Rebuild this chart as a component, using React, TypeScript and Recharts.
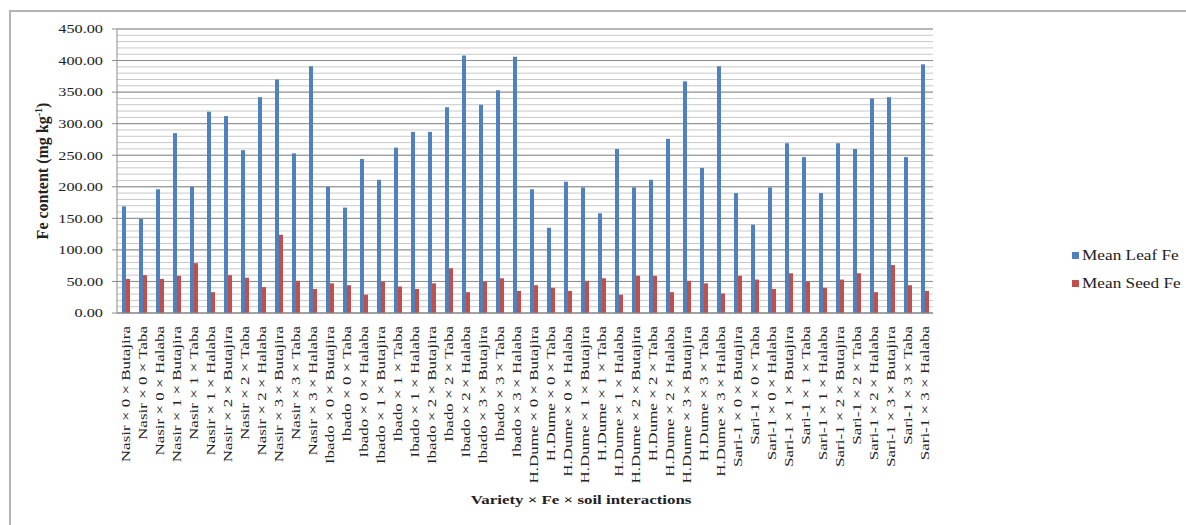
import { BarChart, Bar, XAxis, YAxis, CartesianGrid, Legend } from 'recharts';

const categories = [
  'Nasir × 0 × Butajira', 'Nasir × 0 × Taba', 'Nasir × 0 × Halaba',
  'Nasir × 1 × Butajira', 'Nasir × 1 × Taba', 'Nasir × 1 × Halaba',
  'Nasir × 2 × Butajira', 'Nasir × 2 × Taba', 'Nasir × 2 × Halaba',
  'Nasir × 3 × Butajira', 'Nasir × 3 × Taba', 'Nasir × 3 × Halaba',
  'Ibado × 0 × Butajira', 'Ibado × 0 × Taba', 'Ibado × 0 × Halaba',
  'Ibado × 1 × Butajira', 'Ibado × 1 × Taba', 'Ibado × 1 × Halaba',
  'Ibado × 2 × Butajira', 'Ibado × 2 × Taba', 'Ibado × 2 × Halaba',
  'Ibado × 3 × Butajira', 'Ibado × 3 × Taba', 'Ibado × 3 × Halaba',
  'H.Dume × 0 × Butajira', 'H.Dume × 0 × Taba', 'H.Dume × 0 × Halaba',
  'H.Dume × 1 × Butajira', 'H.Dume × 1 × Taba', 'H.Dume × 1 × Halaba',
  'H.Dume × 2 × Butajira', 'H.Dume × 2 × Taba', 'H.Dume × 2 × Halaba',
  'H.Dume × 3 × Butajira', 'H.Dume × 3 × Taba', 'H.Dume × 3 × Halaba',
  'Sari-1 × 0 × Butajira', 'Sari-1 × 0 × Taba', 'Sari-1 × 0 × Halaba',
  'Sari-1 × 1 × Butajira', 'Sari-1 × 1 × Taba', 'Sari-1 × 1 × Halaba',
  'Sari-1 × 2 × Butajira', 'Sari-1 × 2 × Taba', 'Sari-1 × 2 × Halaba',
  'Sari-1 × 3 × Butajira', 'Sari-1 × 3 × Taba', 'Sari-1 × 3 × Halaba',
];

const leafFe = [
  169, 149, 196, 285, 200, 319, 312, 258, 342, 370, 253, 391,
  200, 167, 244, 211, 262, 287, 287, 326, 408, 330, 353, 406,
  196, 135, 208, 199, 158, 260, 199, 211, 276, 367, 230, 391,
  190, 140, 199, 269, 247, 190, 269, 260, 340, 342, 247, 394,
];

const seedFe = [
  54, 60, 54, 59, 79, 33, 60, 56, 41, 124, 51, 38,
  47, 44, 29, 50, 42, 38, 47, 71, 33, 50, 55, 35,
  44, 40, 35, 51, 55, 29, 59, 59, 33, 51, 47, 31,
  59, 53, 38, 63, 50, 40, 53, 63, 33, 76, 44, 35,
];

const yTicks = [0, 50, 100, 150, 200, 250, 300, 350, 400, 450];
const minorStep = 10;

const seriesNames = ['Mean Leaf Fe', 'Mean Seed Fe'];
const BLUE = '#4F81BD';
const RED = '#C0504D';
const FONT = '"Liberation Serif", "Times New Roman", serif';
const STRETCH = 1.3; // the reference text looks wider than it is tall

const W = 1186;
const H = 525;
const PLOT_LEFT = 117;
const RIGHT_GAP = 141;

const data = categories.map((name, i) => ({
  name,
  leaf: leafFe[i],
  seed: seedFe[i],
}));

const minorLines: number[] = [];
for (let v = 0; v <= 450; v += minorStep) minorLines.push(v);

function stretchAt(x: number, y: number, k = STRETCH) {
  return `translate(${x},${y}) scale(${k},1) translate(${-x},${-y})`;
}

function YTick({ x, y, payload }: { x?: number; y?: number; payload?: { value: number } }) {
  if (x == null || y == null || !payload) return null;
  return (
    <text
      x={x}
      y={y}
      dy="0.35em"
      textAnchor="end"
      fontFamily={FONT}
      fontSize={12.5}
      fill="#222"
      transform={stretchAt(x, y)}
    >
      {payload.value.toFixed(2)}
    </text>
  );
}

function XTick({ x, y, payload }: { x?: number; y?: number; payload?: { value: string } }) {
  if (x == null || y == null || !payload) return null;
  return (
    <text
      x={x}
      y={y}
      dy="0.35em"
      textAnchor="end"
      fontFamily={FONT}
      fontSize={17}
      fill="#222"
      transform={`translate(${x},${y}) rotate(-90) scale(1,0.78) translate(${-x},${-y})`}
    >
      {payload.value}
    </text>
  );
}

function XTitle() {
  const cx = PLOT_LEFT + (W - PLOT_LEFT - RIGHT_GAP) / 2;
  const cy = 504;
  return (
    <text
      x={cx}
      y={cy}
      textAnchor="middle"
      fontFamily={FONT}
      fontWeight="bold"
      fontSize={13}
      fill="#222"
      transform={stretchAt(cx, cy)}
    >
      Variety × Fe × soil interactions
    </text>
  );
}

function YTitle({ viewBox }: { viewBox?: { x: number; y: number; width: number; height: number } }) {
  if (!viewBox) return null;
  const cx = 42;
  const cy = viewBox.y + viewBox.height / 2;
  return (
    <text
      x={cx}
      y={cy}
      dy="0.35em"
      textAnchor="middle"
      fontFamily={FONT}
      fontWeight="bold"
      fontSize={16}
      fill="#222"
      transform={`rotate(-90, ${cx}, ${cy})`}
    >
      Fe content (mg kg
      <tspan dy={-6} fontSize={10}>-1</tspan>
      <tspan dy={6}>)</tspan>
    </text>
  );
}

function LegendBox() {
  const colors = [BLUE, RED];
  return (
    <div style={{ fontFamily: FONT, fontSize: 15, color: '#222', whiteSpace: 'nowrap' }}>
      {seriesNames.map((n, i) => (
        <div key={n} style={{ display: 'flex', alignItems: 'center', height: 28 }}>
          <span style={{ display: 'inline-block', width: 7, height: 7, background: colors[i], marginRight: 3 }} />
          <span style={{ display: 'inline-block', transform: 'scaleX(1.15)', transformOrigin: 'left center' }}>{n}</span>
        </div>
      ))}
    </div>
  );
}

export default function App() {
  return (
    <div
      style={{
        position: 'fixed',
        left: 0,
        top: 0,
        width: W,
        height: H,
        overflow: 'hidden',
        background: '#fff',
      }}
    >
      <div
        style={{
          position: 'absolute',
          left: 9,
          top: 10,
          width: 1200,
          height: 540,
          border: '2px solid #b4b4b4',
        }}
      />
      <BarChart
        width={W}
        height={H}
        data={data}
        margin={{ top: 29, right: RIGHT_GAP, left: 0, bottom: 0 }}
        barGap={0}
        barCategoryGap="30%"
        style={{ position: 'absolute', left: 0, top: 0 }}
      >
        <CartesianGrid
          horizontal
          vertical={false}
          horizontalValues={minorLines}
          stroke="#c8c8c8"
          strokeWidth={1}
        />
        <CartesianGrid horizontal vertical={false} stroke="#8c8c8c" strokeWidth={1} />
        <XAxis
          dataKey="name"
          interval={0}
          height={212}
          tickLine={false}
          tickSize={0}
          tickMargin={13}
          axisLine={{ stroke: '#8c8c8c' }}
          tick={<XTick />}
          label={<XTitle />}
        />
        <YAxis
          width={PLOT_LEFT}
          domain={[0, 450]}
          ticks={yTicks}
          interval={0}
          tickSize={5}
          tickMargin={9}
          tickLine={{ stroke: '#8c8c8c' }}
          axisLine={{ stroke: '#8c8c8c' }}
          tick={<YTick />}
          label={<YTitle />}
        />
        <Legend
          layout="vertical"
          align="right"
          verticalAlign="middle"
          content={<LegendBox />}
          wrapperStyle={{ left: 1072, top: 241, width: 112 }}
        />
        <Bar dataKey="leaf" name={seriesNames[0]} fill={BLUE} barSize={4} isAnimationActive={false} />
        <Bar dataKey="seed" name={seriesNames[1]} fill={RED} barSize={4} isAnimationActive={false} />
      </BarChart>
    </div>
  );
}
